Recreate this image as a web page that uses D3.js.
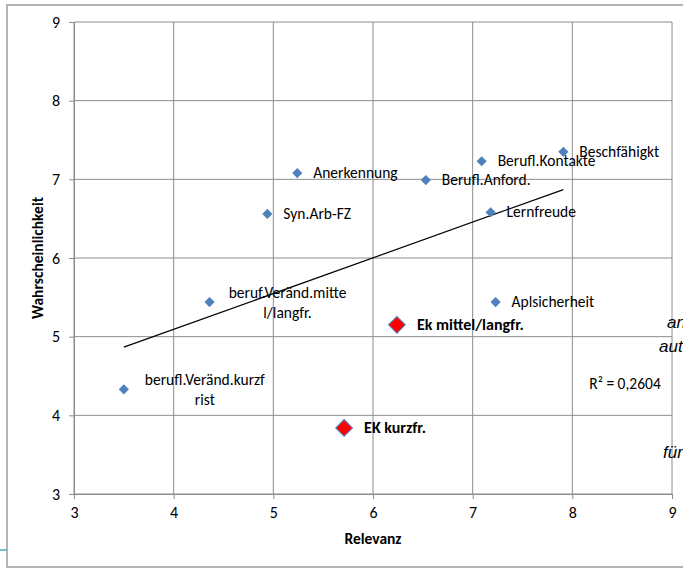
<!DOCTYPE html>
<html>
<head>
<meta charset="utf-8">
<script src="https://cdn.jsdelivr.net/npm/d3@7"></script>
<style>
  body { margin: 0; background: #fff; }
  svg { display: block; font-family: Carlito, Lato, "Open Sans", sans-serif; }
</style>
</head>
<body>
<script>
const w = 683
const h = 568

// blue points (x = Relevanz, y = Wahrscheinlichkeit)
const names = ["Beschfähigkt", "Berufl.Kontakte", "Berufl.Anford.", "Anerkennung", "Syn.Arb-FZ",
	"Lernfreude", "beruf.Veränd.mitte\nl/langfr.", "Aplsicherheit", "berufl.Veränd.kurzf\nrist"]
const relevanz = [7.91, 7.09, 6.53, 5.24, 4.94, 7.18, 4.36, 7.23, 3.50]
const wahrsch = [7.35, 7.23, 6.99, 7.08, 6.56, 6.58, 5.44, 5.44, 4.33]

// red points
const ekNames = ["Ek mittel/langfr.", "EK kurzfr."]
const ekRelevanz = [6.24, 5.71]
const ekWahrsch = [5.15, 3.84]

const ticks = [3, 4, 5, 6, 7, 8, 9]
const rSquared = "R² = 0,2604"
const fragments = [["an", 667, 328], ["aut", 659, 352], ["für", 663, 458]]

const svg = d3.select("body").append("svg")
	.attr("width", w)
	.attr("height", h)

// outer frame
svg.append("path")
	.attr("d", "M" + 7 + "," + (h + 5) + "V5H" + (w + 5))
	.attr("fill", "none")
	.attr("stroke", "#b4b4b4")
	.attr("stroke-width", 2)
svg.append("line")
	.attr("x1", 7).attr("x2", w)
	.attr("y1", 567).attr("y2", 567)
	.attr("stroke", "#b4b4b4")
	.attr("stroke-width", 2)
svg.append("line")
	.attr("x1", 0).attr("x2", 7)
	.attr("y1", 550).attr("y2", 550)
	.attr("stroke", "#4bacc6")
	.attr("stroke-width", 1.5)

const x = d3.scaleLinear().domain([3, 9]).range([74, 672])
const y = d3.scaleLinear().domain([3, 9]).range([494, 22])

// grid
svg.append("g").selectAll("line").data(ticks).enter().append("line")
	.attr("x1", d => x(d)).attr("x2", d => x(d))
	.attr("y1", y(9)).attr("y2", y(3))
	.attr("stroke", "#8c8c8c")
svg.append("g").selectAll("line").data(ticks).enter().append("line")
	.attr("x1", x(3)).attr("x2", x(9))
	.attr("y1", d => y(d)).attr("y2", d => y(d))
	.attr("stroke", "#8c8c8c")

let xAxis = d3.axisBottom(x).tickValues(ticks).tickFormat(d3.format("d")).tickSize(5).tickPadding(8)
let yAxis = d3.axisLeft(y).tickValues(ticks).tickFormat(d3.format("d")).tickSize(5).tickPadding(9)

let gx = svg.append("g")
	.attr("transform", "translate(0," + y(3) + ")")
	.call(xAxis)
let gy = svg.append("g")
	.attr("transform", "translate(" + x(3) + ",0)")
	.call(yAxis)
svg.selectAll(".domain").attr("stroke", "#8c8c8c")
svg.selectAll(".tick line").attr("stroke", "#8c8c8c")
svg.selectAll(".tick text").attr("font-size", 16).attr("fill", "#000")
	.attr("font-family", "Carlito, Lato, sans-serif")

// axis titles
svg.append("text")
	.attr("x", 373).attr("y", 544)
	.attr("text-anchor", "middle")
	.attr("font-size", 15.5).attr("font-weight", "bold")
	.text("Relevanz")
svg.append("text")
	.attr("transform", "translate(43,258) rotate(-90)")
	.attr("text-anchor", "middle")
	.attr("font-size", 15.5).attr("font-weight", "bold")
	.text("Wahrscheinlichkeit")

// trendline over all points
const allX = relevanz.concat(ekRelevanz)
const allY = wahrsch.concat(ekWahrsch)
const mx = d3.mean(allX), my = d3.mean(allY)
const slope = d3.sum(allX, (v, i) => (v - mx) * (allY[i] - my)) / d3.sum(allX, v => (v - mx) * (v - mx))
const icpt = my - slope * mx
const x0 = d3.min(allX), x1 = d3.max(allX)
svg.append("line")
	.attr("x1", x(x0)).attr("y1", y(icpt + slope * x0))
	.attr("x2", x(x1)).attr("y2", y(icpt + slope * x1))
	.attr("stroke", "#000")
	.attr("stroke-width", 1.2)

// blue diamonds
const small = d3.symbol().type(d3.symbolSquare).size(52)
svg.append("g").selectAll("path").data(relevanz).enter().append("path")
	.attr("d", small)
	.attr("transform", (d, i) => "translate(" + x(d) + "," + y(wahrsch[i]) + ") rotate(45)")
	.attr("fill", "#4f81bd")

const big = d3.symbol().type(d3.symbolSquare).size(140)
svg.append("g").selectAll("path").data(ekRelevanz).enter().append("path")
	.attr("d", big)
	.attr("transform", (d, i) => "translate(" + x(d) + "," + y(ekWahrsch[i]) + ") rotate(45)")
	.attr("fill", "#ff0000")
	.attr("stroke", "#4f81bd")
	.attr("stroke-width", 1)

// labels
names.forEach((n, i) => {
	let lines = n.split("\n")
	let px = x(relevanz[i]), py = y(wahrsch[i])
	let t = svg.append("text")
		.attr("font-size", 15.5)
		.attr("fill", "#000")
	if (lines.length == 1) {
		t.attr("x", px + 16).attr("y", py + 5).text(n)
	} else {
		let cx = px + 16 + 62
		lines.forEach((l, j) => {
			t.append("tspan")
				.attr("x", cx + (i == 8 ? 3 : 0))
				.attr("y", py - 4 + j * 20)
				.attr("text-anchor", "middle")
				.text(l)
		})
	}
})
ekNames.forEach((n, i) => {
	svg.append("text")
		.attr("x", x(ekRelevanz[i]) + 20)
		.attr("y", y(ekWahrsch[i]) + 5)
		.attr("font-size", 16)
		.attr("font-weight", "bold")
		.text(n)
})

svg.append("text")
	.attr("x", 625).attr("y", 389)
	.attr("text-anchor", "middle")
	.attr("font-size", 15.5)
	.text(rSquared)

// cut-off slide text behind the chart
fragments.forEach(f => {
	svg.append("text")
		.attr("x", f[1]).attr("y", f[2])
		.attr("font-size", 17)
		.attr("font-style", "italic")
		.attr("font-family", "Liberation Sans, Arial, sans-serif")
		.text(f[0])
})
</script>
</body>
</html>
